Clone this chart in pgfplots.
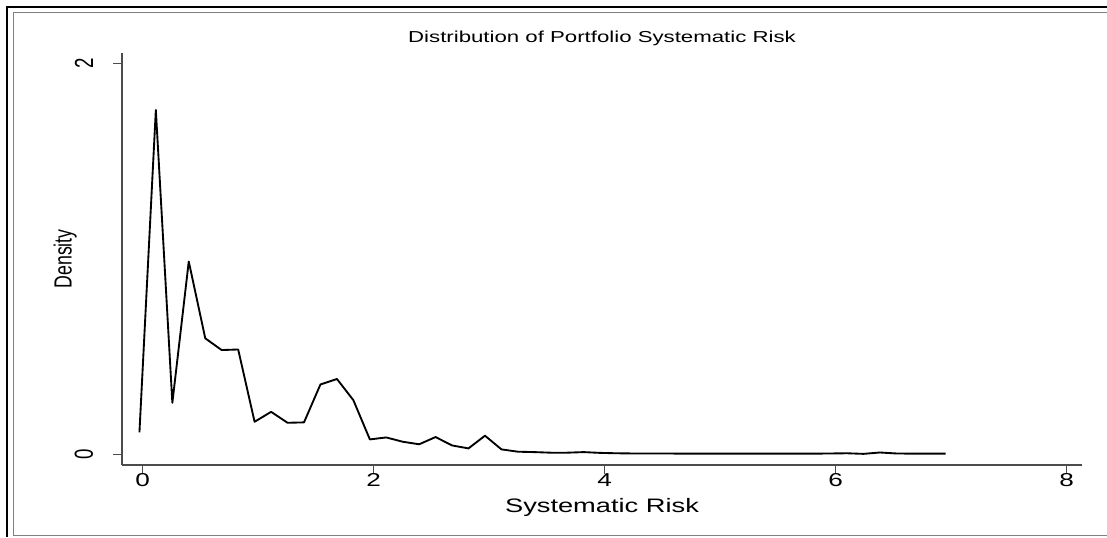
\documentclass[border=0pt]{standalone}
\usepackage{pgfplots}
\pgfplotsset{compat=1.18}
\usepackage{pgfplotstable}
\usepackage{graphicx}
\usepackage{fontspec}
\setmainfont{Liberation Sans}[FakeStretch=1.4]
\newfontfamily\plainfont{Liberation Sans}

\pgfplotstableread{
x y
-0.027 0.111
0.115 1.760
0.258 0.262
0.400 0.985
0.543 0.592
0.685 0.532
0.828 0.535
0.970 0.165
1.113 0.216
1.255 0.160
1.398 0.162
1.540 0.356
1.683 0.384
1.825 0.276
1.968 0.075
2.110 0.085
2.253 0.063
2.395 0.050
2.537 0.087
2.680 0.044
2.822 0.029
2.965 0.094
3.107 0.024
3.250 0.012
3.392 0.010
3.535 0.007
3.677 0.007
3.820 0.010
3.962 0.006
4.105 0.004
4.247 0.003
4.390 0.003
4.532 0.003
4.675 0.002
4.817 0.002
4.959 0.002
5.102 0.002
5.244 0.002
5.387 0.002
5.529 0.002
5.672 0.002
5.814 0.002
5.957 0.003
6.099 0.004
6.242 0.001
6.384 0.008
6.527 0.003
6.669 0.002
6.812 0.002
6.954 0.002
}\densitytable

\begin{document}
\begin{tikzpicture}
\path[use as bounding box] (0,0) rectangle (830.25pt,402.75pt);
\draw[black, line width=1.6pt] (830.25pt,397.5pt) -- (5.25pt,397.5pt) -- (5.25pt,0pt);
\draw[gray, line width=0.75pt] (830.25pt,393pt) -- (9.75pt,393pt) -- (9.75pt,1.5pt) -- (830.25pt,1.5pt);
\begin{axis}[
  at={(91.5pt,54pt)}, anchor=south west,
  scale only axis, width=720pt, height=309.2pt,
  xmin=-0.178, xmax=8.134, ymin=-0.056, ymax=2.053,
  axis x line*=bottom, axis y line*=left,
  axis line style={draw=black!70, line width=0.8pt},
  xtick={0,2,4,6,8}, ytick={0,2},
  xticklabels={0,2,4,6,8},
  yticklabels={\scalebox{1}[1.4]{0},\scalebox{1}[1.4]{2}},
  every tick/.style={draw=black!70, line width=0.8pt},
  tick align=outside, major tick length=6.5pt,
  xticklabel style={font=\fontsize{14}{14}\selectfont, anchor=north, inner sep=0pt},
  xticklabel shift=0pt,
  yticklabel style={font=\plainfont\fontsize{14}{14}\selectfont, rotate=90, anchor=south, inner sep=0pt},
  yticklabel shift=15pt,
  title={Distribution of Portfolio Systematic Risk},
  title style={font=\fontsize{11.9}{12}\selectfont, at={(axis description cs:0.5,1.0066)}, anchor=base},
  xlabel={Systematic Risk},
  xlabel style={font=\fontsize{14.6}{15}\selectfont, at={(axis description cs:0.5,-0.114)}, anchor=base},
  ylabel={\scalebox{1}[1.4]{Density}},
  ylabel style={font=\plainfont\fontsize{13.3}{14}\selectfont, at={(axis description cs:-0.0524,0.5)}, anchor=base},
  clip=false,
]
\addplot[black, line width=1.4pt, line join=round, mark=none] table[x=x, y=y] {\densitytable};
\end{axis}
\end{tikzpicture}
\end{document}
